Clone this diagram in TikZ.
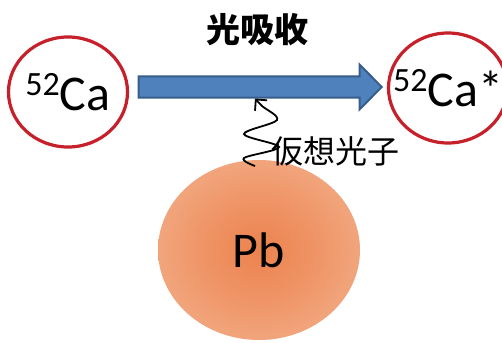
\documentclass[tikz,border=0pt]{standalone}
\usepackage{fontspec}
\setmainfont{Carlito}
\newfontfamily\cjk{Noto Sans CJK JP}
\usetikzlibrary{shapes.geometric,shapes.arrows,arrows.meta}

\definecolor{ringred}{RGB}{198,32,42}
\definecolor{arrowblue}{RGB}{79,129,189}
\definecolor{arrowedge}{RGB}{56,93,138}
\definecolor{pbcore}{RGB}{236,130,78}
\definecolor{pbrim}{RGB}{247,203,174}

% glowing lead nucleus
\pgfdeclareradialshading{pbglow}{\pgfpoint{0bp}{0bp}}{color(0bp)=(pbcore); color(14bp)=(pbcore!75!pbrim); color(50bp)=(pbrim)}

% mass number in front of an element
\newcommand{\massno}[1]{\raisebox{0.62ex}{\fontsize{17}{17}\selectfont #1}}

\begin{document}
\begin{tikzpicture}[x=0.5pt,y=-0.5pt,
	nucleus/.style={ellipse,draw=ringred,line width=1.6pt,minimum width=59.5pt,minimum height=55pt,inner sep=0pt,font=\fontsize{25}{25}\selectfont},
	target/.style={ellipse,shading=pbglow,minimum width=101pt,minimum height=90pt,font=\fontsize{25}{25}\selectfont},
	label/.style={font=\cjk\fontsize{16}{16}\selectfont}]
\useasboundingbox (0,0) rectangle (502,342);

\node[target] (pb) at (259,250) {Pb};
\node[nucleus] (ca) at (68,92) {\makebox[0pt]{\massno{52}Ca}};
\node[nucleus] (caexc) at (448,88) {\makebox[0pt]{\massno{52}Ca*}};

% absorption arrow
\node[single arrow,fill=arrowblue,draw=arrowedge,line width=1pt,
	minimum height=121.5pt,minimum width=21.5pt,inner xsep=0pt,inner ysep=4.75pt,
	single arrow head extend=6pt,single arrow tip angle=91,
	single arrow head indent=0pt] (absorb) at (255,87) {};
\node[label,font=\cjk\bfseries\fontsize{17}{17}\selectfont] (title) at (257,30) {光吸收};

% virtual photon from the lead
\coordinate (src) at (255,166);
\draw[line width=0.9pt,-{Straight Barb[length=4pt,width=8pt]}]
	plot[smooth,tension=0.55] coordinates {(src) (244,158) (279,147) (244,134) (277,120) (262,106) (absorb.south)};
\node[label,anchor=west] (virt) at (264,151) {仮想光子};
\end{tikzpicture}
\end{document}
